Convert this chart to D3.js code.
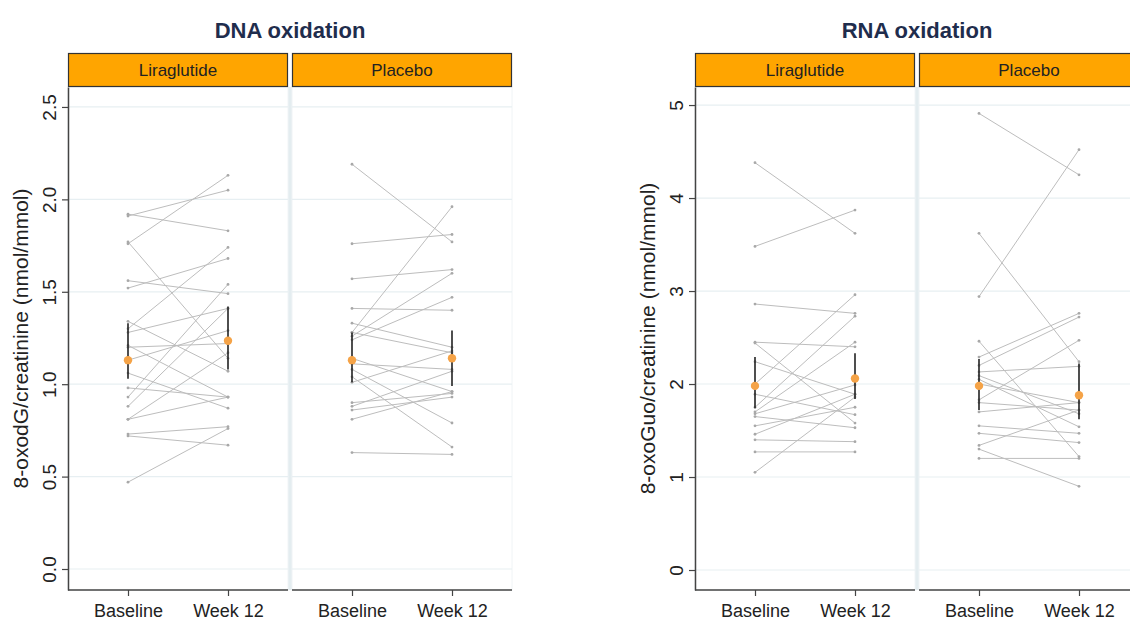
<!DOCTYPE html>
<html>
<head>
<meta charset="utf-8">
<script src="https://cdn.jsdelivr.net/npm/d3@7"></script>
<style>
  html, body { margin: 0; padding: 0; background: #ffffff; }
  svg { display: block; font-family: "Liberation Sans", Arial, sans-serif; }
</style>
</head>
<body>
<svg id="chart" width="1130" height="623"></svg>
<script>
// ---------------- DATA ----------------
const timepoints = ["Baseline", "Week 12"];
const groups = ["Liraglutide", "Placebo"];

const dnaTicks = [0.0, 0.5, 1.0, 1.5, 2.0, 2.5];
const rnaTicks = [0, 1, 2, 3, 4, 5];

// DNA oxidation, individual subjects
const dnaLiraBaseline = [1.92, 1.91, 1.76, 1.77, 1.56, 1.52, 1.34, 1.30, 1.28, 1.20, 1.21, 1.13, 1.06, 0.98, 0.93, 0.88, 0.81, 0.81, 0.73, 0.72, 0.47];
const dnaLiraWeek12   = [1.83, 2.05, 2.13, 1.14, 1.49, 1.68, 1.07, 1.74, 1.41, 1.22, 0.93, 1.29, 0.87, 0.93, 1.54, 1.41, 0.93, 1.17, 0.77, 0.67, 0.76];
const dnaPlacBaseline = [2.19, 1.76, 1.57, 1.41, 1.33, 1.28, 1.26, 1.24, 1.28, 1.14, 1.11, 1.08, 1.04, 1.01, 0.90, 0.88, 0.86, 0.81, 0.63];
const dnaPlacWeek12   = [1.77, 1.81, 1.62, 1.40, 1.20, 1.96, 1.60, 1.47, 1.17, 0.96, 1.08, 0.79, 0.66, 1.18, 0.95, 1.07, 0.93, 0.96, 0.62];

// DNA oxidation, group means with confidence interval
const dnaLiraMean = [1.13, 1.235];
const dnaLiraLow  = [1.03, 1.08];
const dnaLiraHigh = [1.33, 1.42];
const dnaPlacMean = [1.13, 1.14];
const dnaPlacLow  = [1.01, 0.99];
const dnaPlacHigh = [1.28, 1.29];

// RNA oxidation, individual subjects
const rnaLiraBaseline = [4.38, 3.48, 2.86, 2.45, 2.44, 2.24, 2.00, 1.89, 1.75, 1.70, 1.68, 1.65, 1.55, 1.46, 1.40, 1.27, 1.05];
const rnaLiraWeek12   = [3.62, 3.87, 2.76, 2.40, 1.58, 1.89, 2.96, 1.67, 2.73, 2.45, 1.99, 1.53, 1.75, 1.89, 1.38, 1.27, 1.86];
const rnaPlacBaseline = [4.91, 2.94, 3.62, 2.46, 2.29, 2.20, 2.13, 2.09, 2.05, 1.83, 1.80, 1.70, 1.55, 1.47, 1.34, 1.30, 1.20, 2.00];
const rnaPlacWeek12   = [4.25, 4.52, 2.24, 1.22, 2.76, 2.72, 2.19, 1.68, 1.54, 2.47, 1.72, 1.80, 1.47, 1.37, 1.72, 0.90, 1.20, 1.80];

// RNA oxidation, group means with confidence interval
const rnaLiraMean = [1.98, 2.06];
const rnaLiraLow  = [1.74, 1.84];
const rnaLiraHigh = [2.29, 2.33];
const rnaPlacMean = [1.98, 1.88];
const rnaPlacLow  = [1.72, 1.62];
const rnaPlacHigh = [2.27, 2.22];

// ---------------- DRAW ----------------
const svg = d3.select("#chart");

const charts = [
  {
    title: "DNA oxidation",
    yLabel: "8-oxodG/creatinine (nmol/mmol)",
    left: 68, ticks: dnaTicks, fmt: d3.format(".1f"),
    domain: [-0.1136, 2.608],
    panels: [
      { name: groups[0], base: dnaLiraBaseline, wk: dnaLiraWeek12, mean: dnaLiraMean, lo: dnaLiraLow, hi: dnaLiraHigh },
      { name: groups[1], base: dnaPlacBaseline, wk: dnaPlacWeek12, mean: dnaPlacMean, lo: dnaPlacLow, hi: dnaPlacHigh }
    ]
  },
  {
    title: "RNA oxidation",
    yLabel: "8-oxoGuo/creatinine (nmol/mmol)",
    left: 695, ticks: rnaTicks, fmt: d3.format("d"),
    domain: [-0.215, 5.194],
    panels: [
      { name: groups[0], base: rnaLiraBaseline, wk: rnaLiraWeek12, mean: rnaLiraMean, lo: rnaLiraLow, hi: rnaLiraHigh },
      { name: groups[1], base: rnaPlacBaseline, wk: rnaPlacWeek12, mean: rnaPlacMean, lo: rnaPlacLow, hi: rnaPlacHigh }
    ]
  }
];

const panelW = 220, gap = 4;
const stripTop = 53, panelTop = 87, panelBottom = 590;

const gridColor = "#e7eff2";
const gapColor = "#e4edf0";
const lineColor = "#bdbdbd";
const meanColor = "#f5a347";

charts.forEach(ch => {
  const g = svg.append("g");
  const y = d3.scaleLinear().domain(ch.domain).range([panelBottom, panelTop]);
  const totalW = panelW * 2 + gap;

  // title
  g.append("text")
    .attr("x", ch.left + totalW / 2).attr("y", 38)
    .attr("text-anchor", "middle")
    .attr("font-size", 22).attr("font-weight", "bold")
    .attr("fill", "#1f2d4d")
    .text(ch.title);

  // gap between panels
  g.append("rect")
    .attr("x", ch.left + panelW).attr("y", panelTop)
    .attr("width", gap).attr("height", panelBottom - panelTop)
    .attr("fill", gapColor);

  ch.panels.forEach((p, i) => {
    const x0 = ch.left + i * (panelW + gap);
    const x = d3.scalePoint().domain(timepoints).range([x0, x0 + panelW]).padding(0.6);
    const pg = g.append("g");

    // panel background + grid
    pg.append("rect").attr("x", x0).attr("y", panelTop)
      .attr("width", panelW).attr("height", panelBottom - panelTop)
      .attr("fill", "#ffffff").attr("stroke", "#f0f4f6").attr("stroke-width", 1);
    pg.selectAll("line.grid").data(ch.ticks).join("line")
      .attr("class", "grid")
      .attr("x1", x0).attr("x2", x0 + panelW)
      .attr("y1", d => y(d)).attr("y2", d => y(d))
      .attr("stroke", gridColor).attr("stroke-width", 1.2);

    // strip
    pg.append("rect").attr("x", x0 + 0.5).attr("y", stripTop + 0.5)
      .attr("width", panelW - 1).attr("height", panelTop - stripTop - 1)
      .attr("fill", "#ffa500").attr("stroke", "#333333").attr("stroke-width", 1.2);
    pg.append("text")
      .attr("x", x0 + panelW / 2).attr("y", (stripTop + panelTop) / 2 + 6)
      .attr("text-anchor", "middle").attr("font-size", 17).attr("fill", "#222")
      .text(p.name);

    // subject lines
    const pairs = p.base.map((b, k) => [b, p.wk[k]]);
    pg.selectAll("line.subj").data(pairs).join("line")
      .attr("class", "subj")
      .attr("x1", x(timepoints[0])).attr("x2", x(timepoints[1]))
      .attr("y1", d => y(d[0])).attr("y2", d => y(d[1]))
      .attr("stroke", lineColor).attr("stroke-width", 1);
    const pts = [];
    pairs.forEach(d => { pts.push([timepoints[0], d[0]]); pts.push([timepoints[1], d[1]]); });
    pg.selectAll("circle.subj").data(pts).join("circle")
      .attr("class", "subj")
      .attr("cx", d => x(d[0])).attr("cy", d => y(d[1])).attr("r", 1.4)
      .attr("fill", "#a8a8a8");

    // error bars + means
    pg.selectAll("line.err").data(timepoints).join("line")
      .attr("class", "err")
      .attr("x1", d => x(d)).attr("x2", d => x(d))
      .attr("y1", (d, k) => y(p.lo[k])).attr("y2", (d, k) => y(p.hi[k]))
      .attr("stroke", "#222").attr("stroke-width", 1.6);
    pg.selectAll("circle.mean").data(timepoints).join("circle")
      .attr("class", "mean")
      .attr("cx", d => x(d)).attr("cy", (d, k) => y(p.mean[k])).attr("r", 4.2)
      .attr("fill", meanColor);

    // x axis
    const xa = pg.append("g").attr("transform", `translate(0,${panelBottom})`)
      .call(d3.axisBottom(x).tickSize(6).tickSizeOuter(0));
    xa.select(".domain").attr("stroke", "#444").attr("stroke-width", 1.5)
      .attr("d", `M${x0},0H${x0 + panelW}`);
    xa.selectAll(".tick line").attr("stroke", "#444").attr("stroke-width", 1.2);
    xa.selectAll(".tick text").attr("font-size", 18).attr("fill", "#222")
      .attr("dy", "1.0em").attr("font-family", "Liberation Sans, Arial, sans-serif");
  });

  // y axis
  const ya = g.append("g").attr("transform", `translate(${ch.left},0)`)
    .call(d3.axisLeft(y).tickValues(ch.ticks).tickFormat(ch.fmt).tickSize(6).tickSizeOuter(0));
  ya.select(".domain").attr("stroke", "#444").attr("stroke-width", 1.5);
  ya.selectAll(".tick line").attr("stroke", "#444").attr("stroke-width", 1.2);
  ya.selectAll(".tick text")
    .attr("font-size", 19).attr("fill", "#222")
    .attr("font-family", "Liberation Sans, Arial, sans-serif")
    .attr("text-anchor", "middle")
    .attr("x", null).attr("dy", null)
    .attr("transform", "translate(-12,0) rotate(-90)");

  // y label
  g.append("text")
    .attr("transform", `translate(${ch.left - 40},${(panelTop + panelBottom) / 2}) rotate(-90)`)
    .attr("text-anchor", "middle").attr("font-size", 21).attr("fill", "#222")
    .text(ch.yLabel);
});
</script>
</body>
</html>
